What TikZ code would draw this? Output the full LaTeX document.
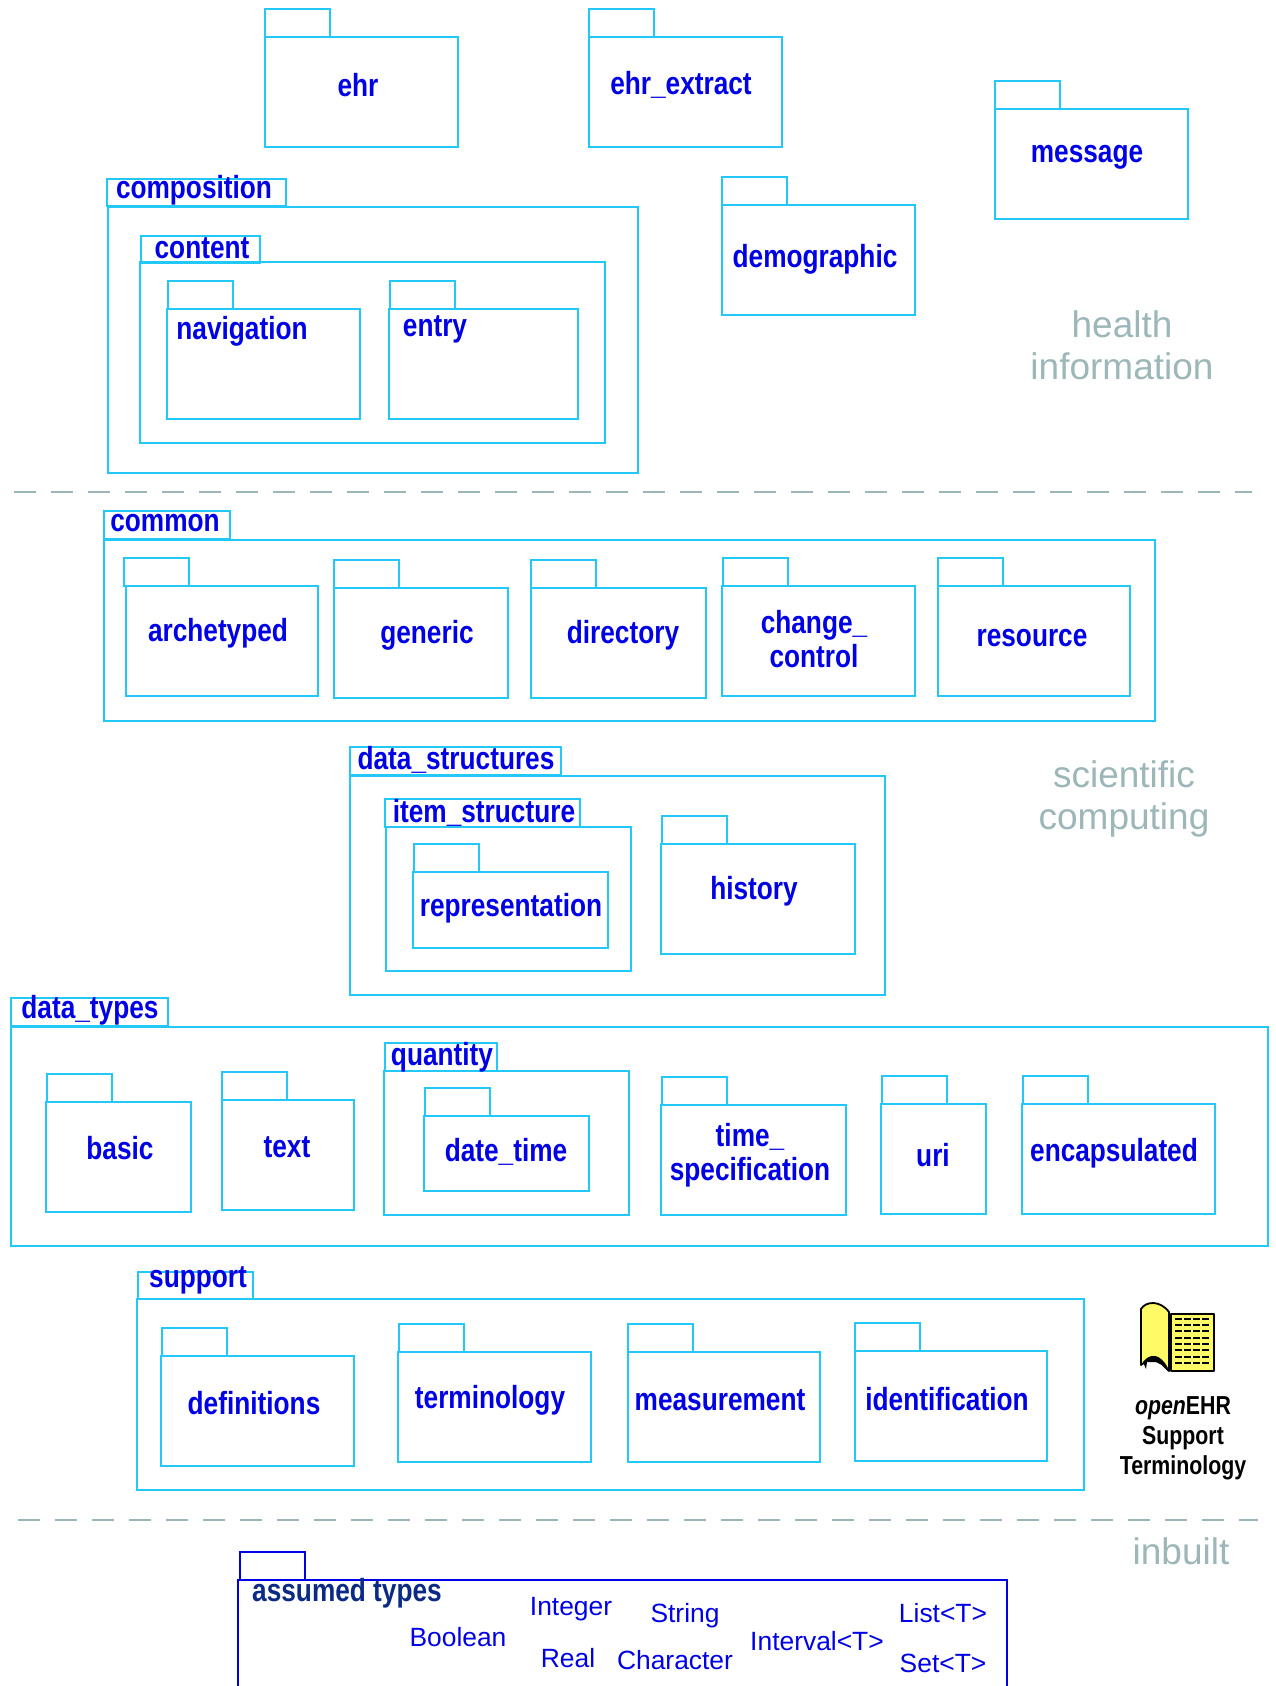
\documentclass[tikz,border=0pt]{standalone}
\usepackage{fontspec}
\setmainfont{Liberation Sans}
\newfontfamily\pkgfont[FakeStretch=0.82]{Liberation Sans}
\definecolor{pkgline}{HTML}{22C8F8}
\definecolor{pkgtext}{HTML}{0000E6}
\definecolor{layertext}{HTML}{9DB6B8}
\definecolor{navytext}{HTML}{0B2A86}
\definecolor{bookyellow}{HTML}{FFFA66}
\begin{document}
\begin{tikzpicture}[%
x=.5pt, y=-.5pt,
every node/.style = {inner sep=0pt, outer sep=0pt},
pkgbody/.style 2 args = {draw=pkgline, line width=.85pt, anchor=north west, minimum width=#1*.5pt, minimum height=#2*.5pt},
pkgtab/.style = {draw=pkgline, line width=.85pt, anchor=south west, minimum width=32.5pt, minimum height=14pt},
widetab/.style 2 args = {draw=pkgline, line width=.85pt, anchor=north west, minimum width=#1*.5pt, minimum height=#2*.5pt},
pkgname/.style = {text=pkgtext, font=\pkgfont\bfseries\fontsize{16}{17}\selectfont, align=center},
layername/.style = {text=layertext, font=\fontsize{18.5}{21}\selectfont, align=center},
assumed/.style = {text=pkgtext, font=\fontsize{13.2}{15}\selectfont},
divider/.style = {draw=layertext, line width=.8pt, dash pattern=on 11pt off 7.5pt}
]
\clip (0,0) rectangle (1275,1686);

% health information
\node[pkgbody={193}{110}] (ehr) at (265,37) {};
\node[pkgtab] (ehrtab) at (ehr.north west) {};
\node[pkgname] (ehrname) at (358,85) {ehr};
\node[pkgbody={193}{110}] (ehrextract) at (589,37) {};
\node[pkgtab] (ehrextracttab) at (ehrextract.north west) {};
\node[pkgname] (ehrextractname) at (681,85) {ehr\_extract};
\node[pkgbody={193}{110}] (message) at (995,109) {};
\node[pkgtab] (messagetab) at (message.north west) {};
\node[pkgname] (messagename) at (1087,157) {message};
\node[pkgbody={193}{110}] (demographic) at (722,205) {};
\node[pkgtab] (demographictab) at (demographic.north west) {};
\node[pkgname] (demographicname) at (815,259) {demographic};
\node[pkgbody={530}{266}] (composition) at (108,207) {};
\node[widetab={179}{27}] (compositiontab) at (107,179) {};
\node[pkgname] (compositionname) at (194,190) {composition};
\node[pkgbody={465}{181}] (content) at (140,262) {};
\node[widetab={119}{27}] (contenttab) at (141,236) {};
\node[pkgname] (contentname) at (202,248) {content};
\node[pkgbody={193}{110}] (navigation) at (167,309) {};
\node[pkgtab,xshift=.5pt] (navigationtab) at (navigation.north west) {};
\node[pkgname] (navigationname) at (242,331) {navigation};
\node[pkgbody={189}{110}] (entry) at (389,309) {};
\node[pkgtab,xshift=.5pt] (entrytab) at (entry.north west) {};
\node[pkgname] (entryname) at (435,329) {entry};
\node[layername] (healthinfo) at (1122,345) {health\\information};

\coordinate (upperleft) at (14,492);
\coordinate (upperright) at (1252,492);
\draw[divider] (upperleft) -- (upperright);

% common
\node[pkgbody={1051}{181}] (common) at (104,540) {};
\node[widetab={126}{28}] (commontab) at (104,511) {};
\node[pkgname] (commonname) at (165,523) {common};
\node[pkgbody={192}{110}] (archetyped) at (126,586) {};
\node[pkgtab,xshift=-1pt] (archetypedtab) at (archetyped.north west) {};
\node[pkgname] (archetypedname) at (218,633) {archetyped};
\node[pkgbody={174}{110}] (generic) at (334,588) {};
\node[pkgtab] (generictab) at (generic.north west) {};
\node[pkgname] (genericname) at (427,635) {generic};
\node[pkgbody={175}{110}] (directory) at (531,588) {};
\node[pkgtab] (directorytab) at (directory.north west) {};
\node[pkgname] (directoryname) at (623,635) {directory};
\node[pkgbody={193}{110}] (changecontrol) at (722,586) {};
\node[pkgtab,xshift=.5pt] (changecontroltab) at (changecontrol.north west) {};
\node[pkgname] (changecontrolname) at (814,639) {change\_\\control};
\node[pkgbody={192}{110}] (resource) at (938,586) {};
\node[pkgtab] (resourcetab) at (resource.north west) {};
\node[pkgname] (resourcename) at (1032,638) {resource};

% data structures
\node[pkgbody={535}{219}] (datastructures) at (350,776) {};
\node[widetab={211}{28}] (datastructurestab) at (350,747) {};
\node[pkgname] (datastructuresname) at (456,760) {data\_structures};
\node[pkgbody={245}{144}] (itemstructure) at (386,827) {};
\node[widetab={195}{28}] (itemstructuretab) at (385,799) {};
\node[pkgname] (itemstructurename) at (484,813) {item\_structure};
\node[pkgbody={195}{76}] (representation) at (413,872) {};
\node[pkgtab,xshift=.5pt] (representationtab) at (representation.north west) {};
\node[pkgname] (representationname) at (511,908) {representation};
\node[pkgbody={194}{110}] (history) at (661,844) {};
\node[pkgtab,xshift=.5pt] (historytab) at (history.north west) {};
\node[pkgname] (historyname) at (754,891) {history};
\node[layername] (scicomp) at (1124,799) {scientific\\computing};

% data types
\node[pkgbody={1257}{219}] (datatypes) at (11,1027) {};
\node[widetab={157}{28}] (datatypestab) at (11,998) {};
\node[pkgname] (datatypesname) at (90,1010) {data\_types};
\node[pkgbody={145}{110}] (basic) at (46,1102) {};
\node[pkgtab,xshift=.5pt] (basictab) at (basic.north west) {};
\node[pkgname] (basicname) at (120,1148) {basic};
\node[pkgbody={132}{110}] (text) at (222,1100) {};
\node[pkgtab] (texttab) at (text.north west) {};
\node[pkgname] (textname) at (287,1147) {text};
\node[pkgbody={245}{144}] (quantity) at (384,1071) {};
\node[widetab={112}{28}] (quantitytab) at (385,1043) {};
\node[pkgname] (quantityname) at (442,1057) {quantity};
\node[pkgbody={165}{75}] (datetime) at (424,1116) {};
\node[pkgtab,xshift=.5pt] (datetimetab) at (datetime.north west) {};
\node[pkgname] (datetimename) at (506,1152) {date\_time};
\node[pkgbody={185}{110}] (timespec) at (661,1105) {};
\node[pkgtab,xshift=.5pt] (timespectab) at (timespec.north west) {};
\node[pkgname] (timespecname) at (750,1155) {time\_\\specification};
\node[pkgbody={105}{110}] (uri) at (881,1104) {};
\node[pkgtab,xshift=.5pt] (uritab) at (uri.north west) {};
\node[pkgname] (uriname) at (933,1155) {uri};
\node[pkgbody={193}{110}] (encapsulated) at (1022,1104) {};
\node[pkgtab,xshift=.5pt] (encapsulatedtab) at (encapsulated.north west) {};
\node[pkgname] (encapsulatedname) at (1114,1153) {encapsulated};

% support
\node[pkgbody={947}{191}] (support) at (137,1299) {};
\node[widetab={115}{27}] (supporttab) at (138,1272) {};
\node[pkgname] (supportname) at (198,1280) {support};
\node[pkgbody={193}{110}] (definitions) at (161,1356) {};
\node[pkgtab,xshift=.5pt] (definitionstab) at (definitions.north west) {};
\node[pkgname] (definitionsname) at (254,1403) {definitions};
\node[pkgbody={193}{110}] (terminology) at (398,1352) {};
\node[pkgtab,xshift=.5pt] (terminologytab) at (terminology.north west) {};
\node[pkgname] (terminologyname) at (490,1400) {terminology};
\node[pkgbody={192}{110}] (measurement) at (628,1352) {};
\node[pkgtab] (measurementtab) at (measurement.north west) {};
\node[pkgname] (measurementname) at (720,1400) {measurement};
\node[pkgbody={192}{110}] (identification) at (855,1351) {};
\node[pkgtab] (identificationtab) at (identification.north west) {};
\node[pkgname] (identificationname) at (947,1399) {identification};

% terminology book
\draw[black, line width=.9pt, fill=bookyellow, line join=round] (1171,1314) rectangle (1214,1371);
\foreach \y in {1319,1325,1331,1338,1344,1350,1357,1363} {
  \foreach \x in {1175,1184,1193,1202} {
    \draw[black, line width=1.1pt] (\x,\y) -- ++(7,0);
  }
}
\draw[black, line width=.9pt, fill=bookyellow, line join=round] (1141,1365) -- (1141,1309) .. controls (1146,1301) and (1160,1300) .. (1169,1312) -- (1169,1371) -- (1163,1365) .. controls (1159,1355) and (1150,1355) .. (1145,1362) -- cycle;
\fill[black] (1143,1362) .. controls (1150,1353) and (1160,1353) .. (1168,1368) -- (1156,1362) -- (1147,1362) -- (1146,1369) -- cycle;
\node[pkgname, text=black, font=\pkgfont\bfseries\fontsize{13}{15}\selectfont] (supportterm) at (1183,1438) {{\itshape open}EHR\\Support\\Terminology};

\coordinate (lowerleft) at (18,1520);
\coordinate (lowerright) at (1258,1520);
\draw[divider] (lowerleft) -- (lowerright);

% inbuilt
\node[layername] (inbuilt) at (1181,1551) {inbuilt};
\node[pkgbody={769}{120}, draw=pkgtext] (assumedtypes) at (238,1580) {};
\node[pkgtab, draw=pkgtext, xshift=1pt] (assumedtypestab) at (assumedtypes.north west) {};
\node[pkgname, text=navytext] (assumedtypesname) at (347,1593) {assumed types};
\node[assumed] (boolean) at (458,1637) {Boolean};
\node[assumed] (integer) at (571,1609) {Integer};
\node[assumed] (string) at (685,1616) {String};
\node[assumed] (real) at (568,1658) {Real};
\node[assumed] (character) at (675,1660) {Character};
\node[assumed] (interval) at (817,1641) {Interval<T>};
\node[assumed] (list) at (943,1613) {List<T>};
\node[assumed] (set) at (943,1663) {Set<T>};
\end{tikzpicture}
\end{document}
